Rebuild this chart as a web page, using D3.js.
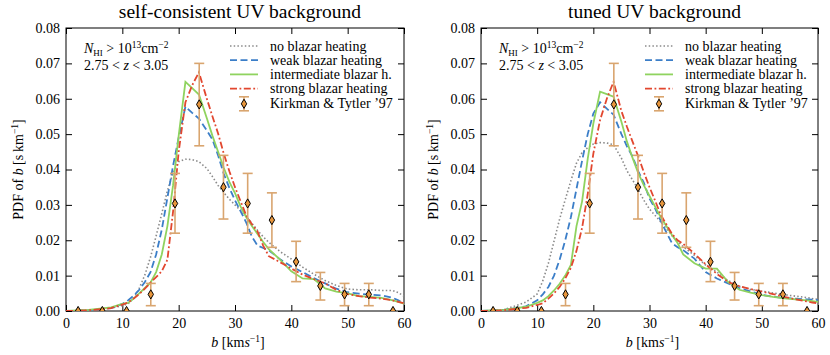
<!DOCTYPE html>
<html>
<head>
<meta charset="utf-8">
<script src="https://cdn.jsdelivr.net/npm/d3@7"></script>
<style>
  body { margin: 0; background: #fff; }
  svg text { font-family: "Liberation Serif", "DejaVu Serif", serif; fill: #000; }
</style>
</head>
<body>
<svg width="830" height="355"></svg>
<script>
// b grid (km/s) on which the simulated PDFs were read off
var bGrid = [0, 4, 8, 10, 11, 12, 13, 14, 15, 16, 17, 18, 19, 20, 21.2, 22.4, 23.6, 25, 26, 27, 28, 29, 30,
  31, 32, 33, 34, 35, 36, 38, 40, 42, 44, 46, 48, 50, 52, 54, 56, 58, 59, 60];

// self-consistent UV background
var scNone = [0, 0.0002, 0.0008, 0.0015, 0.002, 0.0035, 0.0064, 0.0102, 0.0152, 0.0212, 0.0275, 0.034, 0.039, 0.0422,
  0.0429, 0.0428, 0.0422, 0.0403, 0.038, 0.0355, 0.0335, 0.0316, 0.03, 0.0284, 0.0268, 0.0248, 0.0228, 0.021, 0.0194,
  0.0168, 0.0147, 0.0124, 0.0104, 0.0086, 0.0072, 0.0062, 0.006, 0.006, 0.0058, 0.0058, 0.0052, 0.0042];
var scWeak = [0, 0.0002, 0.0008, 0.002, 0.003, 0.0043, 0.006, 0.0082, 0.011, 0.016, 0.023, 0.032, 0.041, 0.049,
  0.0578, 0.056, 0.0544, 0.051, 0.0485, 0.044, 0.0388, 0.0348, 0.0313, 0.0282, 0.025, 0.021, 0.0185, 0.0178, 0.0172,
  0.0146, 0.0126, 0.011, 0.0093, 0.0078, 0.0063, 0.0053, 0.0049, 0.0046, 0.0044, 0.0037, 0.003, 0.0022];
var scInter = [0, 0.0003, 0.001, 0.002, 0.0023, 0.0035, 0.005, 0.0065, 0.008, 0.011, 0.016, 0.024, 0.0355, 0.0495,
  0.0648, 0.063, 0.0612, 0.0545, 0.0495, 0.045, 0.0405, 0.0365, 0.0333, 0.0295, 0.0265, 0.024, 0.0218, 0.0195, 0.0175,
  0.0145, 0.0112, 0.0092, 0.009, 0.0064, 0.0055, 0.005, 0.0042, 0.004, 0.0037, 0.003, 0.0026, 0.0021];
var scStrong = [0, 0.0002, 0.0008, 0.0018, 0.0024, 0.0035, 0.0048, 0.0063, 0.008, 0.0096, 0.0112, 0.0145, 0.028, 0.045,
  0.059, 0.0638, 0.0675, 0.06, 0.055, 0.0502, 0.0445, 0.0395, 0.035, 0.031, 0.027, 0.0245, 0.0225, 0.0185, 0.0155,
  0.0138, 0.012, 0.0103, 0.009, 0.0078, 0.006, 0.0048, 0.0042, 0.0038, 0.0035, 0.003, 0.0026, 0.0022];

// tuned UV background
var tuNone = [0, 0.0003, 0.0025, 0.0048, 0.0085, 0.0135, 0.0197, 0.026, 0.0315, 0.0368, 0.0418, 0.0448, 0.0462, 0.0472,
  0.0476, 0.0475, 0.047, 0.0432, 0.0396, 0.037, 0.0343, 0.0313, 0.0288, 0.027, 0.0252, 0.0233, 0.0213, 0.0197, 0.0182,
  0.0157, 0.013, 0.011, 0.0086, 0.007, 0.0061, 0.0056, 0.0051, 0.0046, 0.0042, 0.0038, 0.0035, 0.0033];
var tuWeak = [0, 0.0003, 0.0013, 0.003, 0.0047, 0.0068, 0.01, 0.0145, 0.02, 0.0265, 0.0345, 0.0425, 0.05, 0.0558,
  0.059, 0.0572, 0.0555, 0.05, 0.0465, 0.0436, 0.0395, 0.0362, 0.0318, 0.029, 0.0255, 0.0222, 0.0192, 0.018, 0.0172,
  0.0148, 0.011, 0.0092, 0.0078, 0.0065, 0.0055, 0.0046, 0.004, 0.0037, 0.0035, 0.0033, 0.0032, 0.0031];
var tuInter = [0, 0.0003, 0.0012, 0.0023, 0.003, 0.0042, 0.0058, 0.0077, 0.01, 0.013, 0.024, 0.031, 0.043, 0.053,
  0.062, 0.0613, 0.0606, 0.0535, 0.0478, 0.0432, 0.039, 0.0355, 0.0325, 0.0295, 0.0265, 0.024, 0.0215, 0.0192, 0.016,
  0.0135, 0.012, 0.012, 0.0082, 0.006, 0.0052, 0.0045, 0.004, 0.0036, 0.0033, 0.003, 0.0028, 0.0026];
var tuStrong = [0, 0.0002, 0.0009, 0.0017, 0.0022, 0.0035, 0.005, 0.0068, 0.0092, 0.0122, 0.017, 0.0235, 0.033, 0.0445,
  0.054, 0.06, 0.0648, 0.0565, 0.052, 0.0478, 0.0437, 0.0392, 0.035, 0.0312, 0.0272, 0.0245, 0.0218, 0.02, 0.019,
  0.0162, 0.0132, 0.0105, 0.0082, 0.007, 0.0062, 0.0055, 0.0048, 0.004, 0.0033, 0.0027, 0.0024, 0.0022];

// Kirkman & Tytler '97 data
var ktB = [2.15, 6.45, 10.75, 15.05, 19.35, 23.65, 27.95, 32.25, 36.55, 40.85, 45.15, 49.45, 53.75, 58.05];
var ktPdf = [0, 0, 0, 0.0047, 0.0304, 0.0584, 0.035, 0.0304, 0.0257, 0.0139, 0.0071, 0.0047, 0.0047, 0];
var ktLo = [0, 0, 0, 0.0015, 0.022, 0.0467, 0.026, 0.022, 0.018, 0.0083, 0.0031, 0.0015, 0.0015, 0];
var ktHi = [0, 0, 0, 0.0078, 0.0389, 0.070, 0.044, 0.0389, 0.0334, 0.0197, 0.0109, 0.0078, 0.0078, 0];

var seriesNames = ["no blazar heating", "weak blazar heating", "intermediate blazar h.", "strong blazar heating"];
var ktName = "Kirkman & Tytler \u201997";
var panelTitles = ["self-consistent UV background", "tuned UV background"];
var xTicks = [0, 10, 20, 30, 40, 50, 60];
var yTicks = [0, 0.01, 0.02, 0.03, 0.04, 0.05, 0.06, 0.07, 0.08];

var styles = [
  {color: "#8a8a8a", dash: "1.5,2.2", width: 1.6},
  {color: "#3b7ec8", dash: "7,3.5", width: 1.8},
  {color: "#8fd35f", dash: null, width: 1.8},
  {color: "#e2472f", dash: "7,2.5,1.8,2.5", width: 1.8}
];
var errColor = "#d9a56f", markFill = "#e8963c";

var svg = d3.select("svg");

var panels = [
  {title: panelTitles[0], series: [scNone, scWeak, scInter, scStrong], x0: 66, x1: 404},
  {title: panelTitles[1], series: [tuNone, tuWeak, tuInter, tuStrong], x0: 481, x1: 818}
];
var plotTop = 28, plotBottom = 311;

function diamond(cx, cy) {
  return "M" + cx + "," + (cy - 4.6) + "L" + (cx + 2.7) + "," + cy + "L" + cx + "," + (cy + 4.6) + "L" + (cx - 2.7) + "," + cy + "Z";
}

panels.forEach(function(p, pi) {
  var x = d3.scaleLinear().domain([0, 60]).range([p.x0, p.x1]);
  var y = d3.scaleLinear().domain([0, 0.08]).range([plotBottom, plotTop]);
  var g = svg.append("g");

  var clipId = "clip" + pi;
  svg.append("clipPath").attr("id", clipId).append("rect")
    .attr("x", p.x0).attr("y", plotTop).attr("width", p.x1 - p.x0).attr("height", plotBottom - plotTop);

  // axes, ticks pointing inward on all four sides
  var ax = [
    g.append("g").attr("transform", "translate(0," + plotBottom + ")")
      .call(d3.axisBottom(x).tickValues(xTicks).tickSizeInner(-6).tickSizeOuter(0).tickPadding(7).tickFormat(d3.format("d"))),
    g.append("g").attr("transform", "translate(0," + plotTop + ")")
      .call(d3.axisTop(x).tickValues(xTicks).tickSizeInner(-6).tickSizeOuter(0).tickFormat("")),
    g.append("g").attr("transform", "translate(" + p.x0 + ",0)")
      .call(d3.axisLeft(y).tickValues(yTicks).tickSizeInner(-6).tickSizeOuter(0).tickPadding(6).tickFormat(d3.format(".2f"))),
    g.append("g").attr("transform", "translate(" + p.x1 + ",0)")
      .call(d3.axisRight(y).tickValues(yTicks).tickSizeInner(-6).tickSizeOuter(0).tickFormat(""))
  ];
  ax.forEach(function(a) {
    a.select(".domain").remove();
    a.selectAll("text").attr("font-size", 14).attr("font-family", "Liberation Serif");
    a.selectAll("line").attr("stroke", "#000").attr("stroke-width", 1);
  });

  g.append("rect").attr("x", p.x0).attr("y", plotTop).attr("width", p.x1 - p.x0).attr("height", plotBottom - plotTop)
    .attr("fill", "none").attr("stroke", "#000").attr("stroke-width", 1);

  // simulated curves
  var line = d3.line().x(function(d) { return x(d[0]); }).y(function(d) { return y(d[1]); });
  var curves = g.append("g").attr("clip-path", "url(#" + clipId + ")");
  p.series.forEach(function(vals, si) {
    var st = styles[si];
    curves.append("path")
      .datum(bGrid.map(function(b, i) { return [b, vals[i]]; }))
      .attr("d", line)
      .attr("fill", "none")
      .attr("stroke", st.color)
      .attr("stroke-width", st.width)
      .attr("stroke-dasharray", st.dash);
  });

  // observations with error bars
  var obs = ktB.map(function(b, i) { return {b: b, v: ktPdf[i], lo: ktLo[i], hi: ktHi[i]}; });
  var eb = curves.selectAll("g.eb").data(obs.filter(function(d) { return d.hi > d.lo; })).enter().append("g");
  eb.append("line").attr("x1", function(d) { return x(d.b); }).attr("x2", function(d) { return x(d.b); })
    .attr("y1", function(d) { return y(d.lo); }).attr("y2", function(d) { return y(d.hi); })
    .attr("stroke", errColor).attr("stroke-width", 1.6);
  ["lo", "hi"].forEach(function(k) {
    eb.append("line").attr("x1", function(d) { return x(d.b) - 5; }).attr("x2", function(d) { return x(d.b) + 5; })
      .attr("y1", function(d) { return y(d[k]); }).attr("y2", function(d) { return y(d[k]); })
      .attr("stroke", errColor).attr("stroke-width", 1.6);
  });
  curves.selectAll("path.mk").data(obs).enter().append("path")
    .attr("d", function(d) { return diamond(x(d.b), y(d.v)); })
    .attr("fill", markFill).attr("stroke", "#000").attr("stroke-width", 1);

  // title
  svg.append("text").attr("x", (p.x0 + p.x1) / 2 + 5).attr("y", 18).attr("text-anchor", "middle")
    .attr("font-size", 19.5).text(p.title);

  // annotation
  var ann = svg.append("text").attr("x", p.x0 + 18).attr("y", 53).attr("font-size", 14);
  ann.append("tspan").attr("font-style", "italic").text("N");
  ann.append("tspan").attr("font-size", 9).attr("dy", 3).text("HI");
  ann.append("tspan").attr("dy", -3).text(" > 10");
  ann.append("tspan").attr("font-size", 9.5).attr("dy", -5).text("13");
  ann.append("tspan").attr("dy", 5).text("cm");
  ann.append("tspan").attr("font-size", 9.5).attr("dy", -5).text("\u22122");
  var ann2 = svg.append("text").attr("x", p.x0 + 18).attr("y", 70).attr("font-size", 14);
  ann2.append("tspan").text("2.75 < ");
  ann2.append("tspan").attr("font-style", "italic").text("z");
  ann2.append("tspan").text(" < 3.05");

  // legend
  var lx = p.x0 + 164, ly = 46, dy = 14.2;
  seriesNames.forEach(function(name, si) {
    var st = styles[si];
    svg.append("line").attr("x1", lx).attr("x2", lx + 28).attr("y1", ly + si * dy).attr("y2", ly + si * dy)
      .attr("stroke", st.color).attr("stroke-width", st.width).attr("stroke-dasharray", st.dash);
    svg.append("text").attr("x", lx + 40).attr("y", ly + si * dy + 4.5).attr("font-size", 14).text(name);
  });
  var ky = ly + 4 * dy + 1, kx = lx + 14;
  svg.append("line").attr("x1", kx).attr("x2", kx).attr("y1", ky - 7).attr("y2", ky + 7)
    .attr("stroke", errColor).attr("stroke-width", 1.6);
  [ky - 7, ky + 7].forEach(function(yy) {
    svg.append("line").attr("x1", kx - 5).attr("x2", kx + 5).attr("y1", yy).attr("y2", yy)
      .attr("stroke", errColor).attr("stroke-width", 1.6);
  });
  svg.append("path").attr("d", diamond(kx, ky)).attr("fill", markFill).attr("stroke", "#000").attr("stroke-width", 1);
  svg.append("text").attr("x", lx + 40).attr("y", ky + 4.5).attr("font-size", 14).text(ktName);

  // axis labels
  var xl = svg.append("text").attr("x", (p.x0 + p.x1) / 2 + 3).attr("y", 347).attr("text-anchor", "middle").attr("font-size", 14);
  xl.append("tspan").attr("font-style", "italic").text("b");
  xl.append("tspan").text(" [km");
  xl.append("tspan").attr("font-style", "italic").text("s");
  xl.append("tspan").attr("font-size", 9.5).attr("dy", -5).text("\u22121");
  xl.append("tspan").attr("dy", 5).text("]");

  var yl = svg.append("text").attr("transform", "translate(" + (p.x0 - 43) + "," + ((plotTop + plotBottom) / 2) + ") rotate(-90)")
    .attr("text-anchor", "middle").attr("font-size", 14);
  yl.append("tspan").text("PDF of ");
  yl.append("tspan").attr("font-style", "italic").text("b");
  yl.append("tspan").text(" [s\u2009km");
  yl.append("tspan").attr("font-size", 9.5).attr("dy", -5).text("\u22121");
  yl.append("tspan").attr("dy", 5).text("]");
});
</script>
</body>
</html>
